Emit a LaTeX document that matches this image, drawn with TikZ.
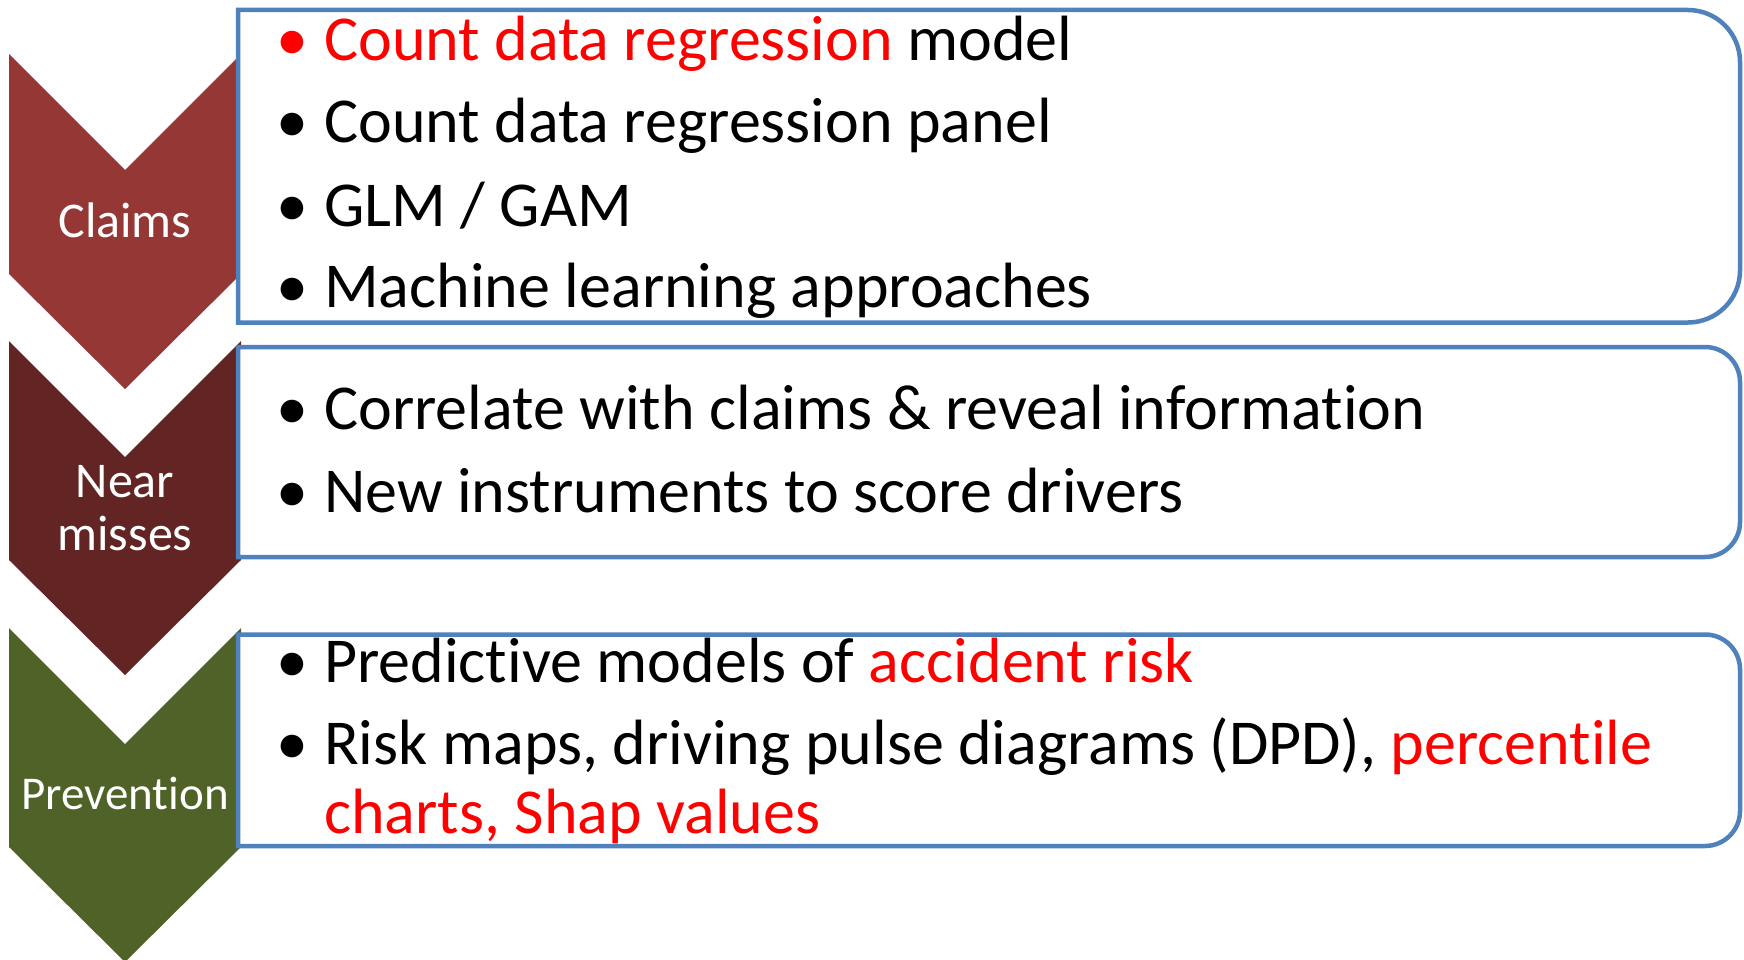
\documentclass[tikz,border=0pt]{standalone}
\usepackage{fontspec}
\setmainfont{Carlito}[Ligatures=NoCommon]
\definecolor{boxblue}{HTML}{4F81BD}
\definecolor{claimred}{HTML}{953735}
\definecolor{nearred}{HTML}{632523}
\definecolor{prevgreen}{HTML}{4F6228}
\definecolor{hired}{HTML}{FF0000}
\begin{document}
\begin{tikzpicture}[x=1pt,y=-1pt,
  itembox/.style={draw=boxblue, line width=4.5pt, fill=white},
  lbl/.style={text=white, font=\fontsize{50}{60}\selectfont, anchor=base, inner sep=0pt},
  item/.style={anchor=base west, inner sep=0pt, font=\fontsize{64}{76}\selectfont},
  bul/.style={anchor=base, inner sep=0pt, font=\fontsize{64}{76}\selectfont}]
\useasboundingbox (0,0) rectangle (1744,960);
% chevrons
\fill[claimred] (9,54) -- (125,170) -- (241,54) -- (241,274) -- (125,389) -- (9,274) -- cycle;
\fill[nearred] (9,341) -- (125,457) -- (241,341) -- (241,560) -- (125,675) -- (9,560) -- cycle;
\fill[prevgreen] (9,628) -- (125,744) -- (241,628) -- (241,847) -- (125,962) -- (9,847) -- cycle;
% boxes
\draw[itembox] (238,10) -- (1688,10) arc[start angle=-90, end angle=0, radius=52] -- (1740,270.5) arc[start angle=0, end angle=90, radius=52] -- (238,322.5) -- cycle;
\draw[itembox] (238,347) -- (1705,347) arc[start angle=-90, end angle=0, radius=35] -- (1740,522) arc[start angle=0, end angle=90, radius=35] -- (238,557) -- cycle;
\draw[itembox] (238,634.5) -- (1705,634.5) arc[start angle=-90, end angle=0, radius=35] -- (1740,811) arc[start angle=0, end angle=90, radius=35] -- (238,846) -- cycle;
% labels
\node[lbl] (claims) at (125,237) {Claims};
\node[lbl] (near) at (125,497) {Near};
\node[lbl] (misses) at (125,550) {misses};
\node[lbl, font=\fontsize{47}{56}\selectfont] (prev) at (125,809) {Prevention};
% box 1
\node[bul, text=hired] (b11) at (292,61) {•};
\node[item] (t11) at (324,61) {\textcolor{hired}{Count data regression} model};
\node[bul] (b12) at (292,143) {•};
\node[item] (t12) at (324,143) {Count data regression panel};
\node[bul] (b13) at (292,226) {•};
\node[item] (t13) at (324,226) {GLM / GAM};
\node[bul] (b14) at (292,307) {•};
\node[item] (t14) at (324,307) {Machine learning approaches};
% box 2
\node[bul] (b21) at (292,429) {•};
\node[item] (t21) at (324,429) {Correlate with claims \& reveal information};
\node[bul] (b22) at (292,512) {•};
\node[item] (t22) at (324,512) {New instruments to score drivers};
% box 3
\node[bul] (b31) at (292,682) {•};
\node[item] (t31) at (324,682) {Predictive models of \textcolor{hired}{accident risk}};
\node[bul] (b32) at (292,764) {•};
\node[item] (t32) at (324,764) {Risk maps, driving pulse diagrams (DPD), \textcolor{hired}{percentile}};
\node[item, text=hired] (t33) at (324,833) {charts, Shap values};
\end{tikzpicture}
\end{document}
